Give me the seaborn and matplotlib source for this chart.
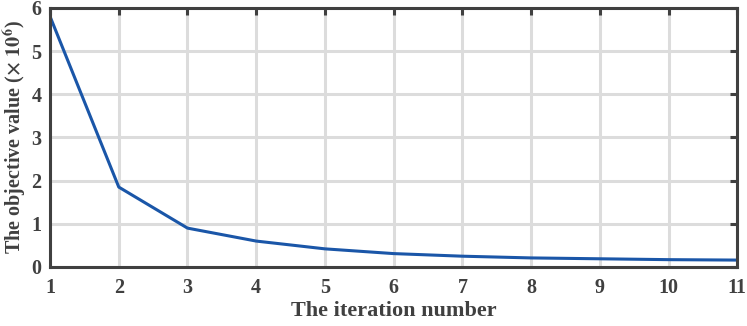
import matplotlib
matplotlib.use("Agg")
import matplotlib.pyplot as plt
import pandas as pd
import seaborn as sb

iterations = [1, 2, 3, 4, 5, 6, 7, 8, 9, 10, 11]
objective = [5.8, 1.85, 0.9, 0.6, 0.42, 0.31, 0.25, 0.21, 0.19, 0.17, 0.16]

sb.set_style("white")
plt.rcParams['font.family'] = ['Liberation Serif', 'DejaVu Serif']
plt.rcParams['font.weight'] = 'bold'
plt.rcParams['mathtext.fontset'] = 'stix'

axis_color = '#404040'
data = pd.DataFrame({"Iteration": iterations, "Objective": objective})

fig, ax = plt.subplots(figsize=(7.47, 3.26), dpi=100)
sb.lineplot(data=data, x="Iteration", y="Objective", color='#1a56a8', linewidth=2.2, ax=ax)

ax.set_xlim(1, 11)
ax.set_ylim(0, 6)
ax.set_xticks(iterations)
ax.set_yticks(range(0, 7))
ax.grid(True, color='#dcdcdc', linewidth=2.2)
ax.set_axisbelow(True)

for spine in ax.spines.values():
    spine.set_color(axis_color)
    spine.set_linewidth(2.2)
ax.tick_params(direction='in', length=5, width=2.2, color=axis_color,
               labelcolor=axis_color, labelsize=14.5, top=True, right=True)
ax.tick_params(axis='x', pad=8)
ax.tick_params(axis='y', pad=6)
for lbl in ax.get_xticklabels() + ax.get_yticklabels():
    lbl.set_fontweight('bold')

ax.set_xlabel('The iteration number', fontsize=16, fontweight='bold', color=axis_color, labelpad=2)
ax.set_ylabel(r'The objective value ($\times\ 10^6$)', fontsize=14.5, fontweight='bold',
              color=axis_color)
ax.yaxis.set_label_coords(-0.03, 0.5)

fig.subplots_adjust(left=0.067, right=0.987, top=0.976, bottom=0.181)
fig.savefig('out.png', dpi=100)
